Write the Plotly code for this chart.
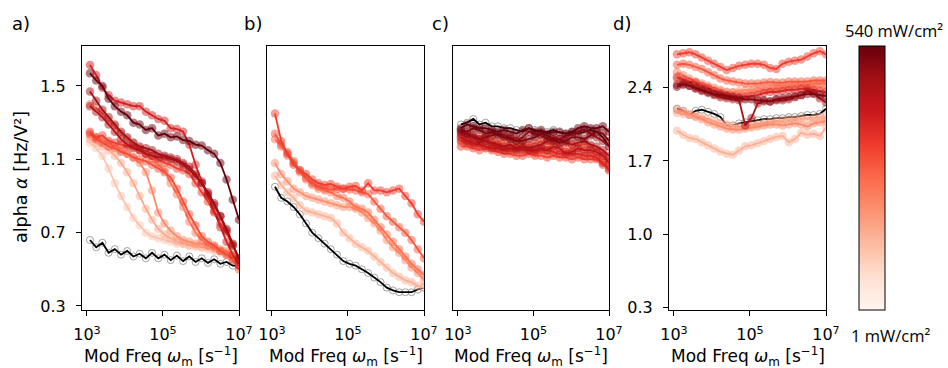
import math
import plotly.graph_objects as go

# ---------------- data ----------------
# modulation frequency sampling grid (log10 of omega_m in s^-1)
log_freq = [3.08, 3.243, 3.407, 3.57, 3.733, 3.897, 4.06, 4.223, 4.387, 4.55,
            4.713, 4.877, 5.04, 5.203, 5.367, 5.53, 5.693, 5.857, 6.02, 6.183,
            6.347, 6.51, 6.673, 6.837, 7.0]
freq = [10 ** e for e in log_freq]

x_tick_vals = [1e3, 1e5, 1e7]
x_tick_text = ["10<sup>3</sup>", "10<sup>5</sup>", "10<sup>7</sup>"]
y_ticks_abc = [0.3, 0.7, 1.1, 1.5]
y_ticks_d = [0.3, 1.0, 1.7, 2.4]
panel_labels = ["a)", "b)", "c)", "d)"]
I_MIN, I_MAX = 1, 540   # illumination intensity, mW/cm^2

# panel a
a_dark = [0.66, 0.62, 0.645, 0.59, 0.61, 0.58, 0.60, 0.57, 0.585, 0.56, 0.59, 0.56, 0.58,
          0.55, 0.575, 0.545, 0.57, 0.54, 0.56, 0.535, 0.555, 0.53, 0.54, 0.52, 0.52]
a_intensity = [4.0, 6.6, 12.4, 17, 38, 49, 93, 174, 254, 540]
a_alpha = [
    [1.19, 1.16, 1.12, 1.05, 0.97, 0.90, 0.84, 0.78, 0.74, 0.70, 0.68, 0.67, 0.66,
     0.65, 0.64, 0.64, 0.63, 0.62, 0.62, 0.61, 0.60, 0.59, 0.58, 0.56, 0.54],
    [1.21, 1.19, 1.17, 1.15, 1.12, 1.08, 1.03, 0.97, 0.90, 0.83, 0.77, 0.72, 0.69,
     0.67, 0.65, 0.64, 0.63, 0.63, 0.62, 0.62, 0.61, 0.60, 0.58, 0.57, 0.55],
    [1.23, 1.22, 1.20, 1.19, 1.17, 1.15, 1.13, 1.11, 1.08, 1.03, 0.93, 0.81, 0.75,
     0.71, 0.68, 0.66, 0.65, 0.64, 0.64, 0.63, 0.62, 0.61, 0.60, 0.57, 0.54],
    [1.40, 1.38, 1.35, 1.31, 1.28, 1.24, 1.21, 1.19, 1.16, 1.13, 1.10, 1.07, 1.04,
     0.97, 0.91, 0.84, 0.76, 0.70, 0.66, 0.63, 0.62, 0.60, 0.59, 0.56, 0.53],
    [1.24, 1.21, 1.19, 1.17, 1.16, 1.14, 1.13, 1.11, 1.10, 1.09, 1.07, 1.05, 1.03,
     1.00, 0.94, 0.87, 0.80, 0.74, 0.68, 0.65, 0.63, 0.60, 0.58, 0.55, 0.50],
    [1.25, 1.22, 1.23, 1.20, 1.19, 1.18, 1.17, 1.17, 1.15, 1.13, 1.12, 1.10, 1.08,
     1.07, 1.05, 1.04, 1.02, 0.97, 0.92, 0.87, 0.81, 0.75, 0.70, 0.63, 0.56],
    [1.615, 1.56, 1.49, 1.45, 1.42, 1.41, 1.40, 1.39, 1.39, 1.36, 1.34, 1.32, 1.31,
     1.27, 1.265, 1.25, 1.18, 1.07, 0.98, 0.90, 0.82, 0.73, 0.65, 0.58, 0.52],
    [1.39, 1.36, 1.33, 1.29, 1.25, 1.21, 1.18, 1.16, 1.15, 1.13, 1.12, 1.11, 1.11,
     1.10, 1.10, 1.08, 1.06, 1.02, 0.97, 0.91, 0.85, 0.79, 0.71, 0.63, 0.56],
    [1.47, 1.42, 1.37, 1.33, 1.29, 1.25, 1.22, 1.19, 1.17, 1.16, 1.15, 1.13, 1.12,
     1.11, 1.09, 1.07, 1.045, 1.01, 0.97, 0.92, 0.86, 0.79, 0.72, 0.64, 0.55],
    [1.57, 1.53, 1.50, 1.43, 1.39, 1.36, 1.34, 1.30, 1.29, 1.26, 1.27, 1.23, 1.24,
     1.22, 1.225, 1.205, 1.20, 1.18, 1.175, 1.15, 1.13, 1.08, 0.99, 0.88, 0.77],
]

# panel b
b_dark = [0.95, 0.89, 0.87, 0.84, 0.80, 0.75, 0.70, 0.67, 0.64, 0.61, 0.58, 0.545, 0.53,
          0.52, 0.50, 0.48, 0.455, 0.43, 0.40, 0.385, 0.375, 0.375, 0.375, 0.39, 0.40]
b_intensity = [5.8, 11, 20, 32, 49]
b_alpha = [
    [1.01, 0.96, 0.92, 0.89, 0.85, 0.82, 0.81, 0.80, 0.79, 0.78, 0.75, 0.70, 0.67,
     0.64, 0.62, 0.60, 0.57, 0.54, 0.51, 0.48, 0.46, 0.44, 0.43, 0.41, 0.40],
    [1.08, 1.02, 0.98, 0.94, 0.92, 0.90, 0.89, 0.88, 0.87, 0.86, 0.85, 0.84, 0.84,
     0.83, 0.81, 0.78, 0.75, 0.71, 0.66, 0.62, 0.59, 0.55, 0.51, 0.48, 0.44],
    [1.21, 1.17, 1.12, 1.08, 1.03, 0.99, 0.96, 0.94, 0.93, 0.92, 0.90, 0.89, 0.87,
     0.84, 0.83, 0.81, 0.77, 0.73, 0.69, 0.65, 0.61, 0.57, 0.53, 0.50, 0.47],
    [1.24, 1.18, 1.14, 1.09, 1.04, 1.00, 0.97, 0.95, 0.94, 0.935, 0.94, 0.94, 0.935,
     0.93, 0.92, 0.91, 0.87, 0.83, 0.79, 0.76, 0.73, 0.70, 0.66, 0.61, 0.56],
    [1.35, 1.20, 1.13, 1.07, 1.04, 1.02, 0.99, 0.97, 0.96, 0.965, 0.95, 0.94, 0.95,
     0.955, 0.93, 0.97, 0.93, 0.93, 0.92, 0.93, 0.94, 0.90, 0.86, 0.80, 0.76],
]

# panel c
c_dark = [1.29, 1.30, 1.32, 1.29, 1.30, 1.28, 1.28, 1.27, 1.27, 1.26, 1.25, 1.27, 1.26,
          1.25, 1.25, 1.26, 1.245, 1.24, 1.25, 1.24, 1.25, 1.26, 1.25, 1.22, 1.17]
c_intensity = [6.6, 12.4, 23, 44, 82, 154, 210, 290, 394, 540]
c_alpha = [
    [1.19, 1.18, 1.17, 1.17, 1.16, 1.16, 1.15, 1.15, 1.14, 1.15, 1.14, 1.14, 1.13,
     1.14, 1.13, 1.13, 1.13, 1.12, 1.13, 1.12, 1.12, 1.12, 1.11, 1.09, 1.07],
    [1.21, 1.22, 1.20, 1.19, 1.20, 1.19, 1.18, 1.19, 1.18, 1.17, 1.18, 1.17, 1.17,
     1.18, 1.16, 1.17, 1.16, 1.16, 1.15, 1.16, 1.15, 1.14, 1.14, 1.11, 1.09],
    [1.23, 1.24, 1.23, 1.22, 1.23, 1.22, 1.20, 1.21, 1.22, 1.21, 1.19, 1.18, 1.19,
     1.20, 1.19, 1.18, 1.19, 1.20, 1.18, 1.17, 1.18, 1.17, 1.15, 1.13, 1.10],
    [1.17, 1.17, 1.16, 1.15, 1.16, 1.15, 1.14, 1.13, 1.13, 1.12, 1.12, 1.13, 1.12,
     1.12, 1.11, 1.12, 1.11, 1.11, 1.10, 1.11, 1.10, 1.10, 1.10, 1.07, 1.05],
    [1.20, 1.19, 1.18, 1.19, 1.20, 1.18, 1.17, 1.16, 1.15, 1.16, 1.15, 1.15, 1.14,
     1.15, 1.15, 1.14, 1.13, 1.14, 1.13, 1.13, 1.12, 1.12, 1.11, 1.08, 1.04],
    [1.22, 1.20, 1.19, 1.18, 1.17, 1.16, 1.16, 1.15, 1.16, 1.15, 1.16, 1.15, 1.15,
     1.16, 1.15, 1.17, 1.16, 1.13, 1.14, 1.16, 1.15, 1.15, 1.14, 1.12, 1.08],
    [1.24, 1.22, 1.23, 1.21, 1.20, 1.19, 1.18, 1.17, 1.18, 1.16, 1.17, 1.16, 1.17,
     1.18, 1.20, 1.22, 1.21, 1.19, 1.18, 1.19, 1.20, 1.18, 1.17, 1.15, 1.12],
    [1.25, 1.24, 1.22, 1.21, 1.22, 1.23, 1.24, 1.23, 1.22, 1.20, 1.22, 1.25, 1.24,
     1.23, 1.21, 1.20, 1.21, 1.23, 1.24, 1.25, 1.26, 1.24, 1.22, 1.20, 1.17],
    [1.26, 1.25, 1.27, 1.26, 1.24, 1.25, 1.23, 1.22, 1.21, 1.20, 1.20, 1.21, 1.22,
     1.24, 1.23, 1.21, 1.19, 1.20, 1.22, 1.22, 1.21, 1.23, 1.25, 1.24, 1.20],
    [1.27, 1.29, 1.28, 1.27, 1.27, 1.26, 1.25, 1.26, 1.25, 1.24, 1.26, 1.27, 1.25,
     1.26, 1.24, 1.25, 1.25, 1.24, 1.25, 1.27, 1.28, 1.27, 1.27, 1.28, 1.25],
]

# panel d
d_dark = [2.20, 2.18, 2.14, 2.18, 2.19, 2.17, 2.15, 2.12, 2.04, 2.04, 2.06, 2.07, 2.08,
          2.09, 2.10, 2.10, 2.11, 2.11, 2.12, 2.12, 2.13, 2.14, 2.14, 2.15, 2.20]
d_intensity = [5.8, 6.6, 9, 12.4, 17, 32, 49, 82, 210, 394]
d_alpha = [
    [1.99, 1.95, 1.92, 1.91, 1.88, 1.85, 1.82, 1.79, 1.77, 1.76, 1.80, 1.84, 1.85,
     1.87, 1.89, 1.91, 1.93, 1.94, 1.88, 1.91, 1.97, 1.95, 1.96, 1.94, 2.02],
    [2.16, 2.15, 2.14, 2.13, 2.12, 2.10, 2.08, 2.06, 2.05, 2.04, 2.03, 2.03, 2.04,
     2.05, 2.06, 2.07, 2.08, 2.09, 2.10, 2.10, 2.11, 2.10, 2.11, 2.12, 2.12],
    [2.48, 2.46, 2.45, 2.43, 2.41, 2.39, 2.38, 2.37, 2.36, 2.36, 2.37, 2.38, 2.38,
     2.39, 2.40, 2.40, 2.41, 2.41, 2.41, 2.42, 2.42, 2.41, 2.42, 2.41, 2.40],
    [2.19, 2.17, 2.15, 2.12, 2.10, 2.07, 2.05, 2.03, 2.01, 2.00, 2.00, 2.01, 2.02,
     2.03, 2.04, 2.05, 2.05, 2.04, 2.05, 2.06, 2.05, 2.03, 2.06, 2.07, 2.08],
    [2.55, 2.52, 2.49, 2.46, 2.44, 2.42, 2.40, 2.38, 2.36, 2.355, 2.35, 2.35, 2.36,
     2.37, 2.38, 2.39, 2.40, 2.40, 2.41, 2.42, 2.42, 2.43, 2.43, 2.44, 2.44],
    [2.62, 2.63, 2.62, 2.60, 2.58, 2.55, 2.52, 2.49, 2.47, 2.46, 2.45, 2.44, 2.44,
     2.44, 2.45, 2.455, 2.45, 2.45, 2.46, 2.46, 2.46, 2.46, 2.47, 2.47, 2.47],
    [2.72, 2.73, 2.74, 2.72, 2.69, 2.66, 2.63, 2.60, 2.57, 2.59, 2.61, 2.62, 2.63,
     2.63, 2.62, 2.59, 2.58, 2.63, 2.65, 2.66, 2.67, 2.70, 2.73, 2.75, 2.72],
    [2.50, 2.48, 2.46, 2.45, 2.42, 2.40, 2.37, 2.35, 2.33, 2.32, 2.31, 2.31, 2.32,
     2.33, 2.35, 2.36, 2.36, 2.37, 2.38, 2.38, 2.39, 2.39, 2.38, 2.37, 2.36],
    [2.43, 2.44, 2.42, 2.39, 2.37, 2.35, 2.33, 2.31, 2.30, 2.29, 2.28, 2.04, 2.11,
     2.25, 2.27, 2.27, 2.28, 2.28, 2.29, 2.31, 2.33, 2.37, 2.35, 2.30, 2.26],
    [2.41, 2.43, 2.42, 2.40, 2.38, 2.36, 2.34, 2.33, 2.32, 2.31, 2.30, 2.29, 2.29,
     2.28, 2.28, 2.27, 2.29, 2.30, 2.31, 2.32, 2.33, 2.34, 2.34, 2.33, 2.32],
]

# ---------------- styling ----------------
REDS = [(255, 245, 240), (254, 224, 210), (252, 187, 161), (252, 146, 114), (251, 106, 74),
        (239, 59, 44), (203, 24, 29), (165, 15, 21), (103, 0, 13)]


def reds(f):
    f = min(max(f, 0.0), 1.0) * (len(REDS) - 1)
    i = min(int(f), len(REDS) - 2)
    t = f - i
    c = [round(REDS[i][k] + (REDS[i + 1][k] - REDS[i][k]) * t) for k in range(3)]
    return "rgb(%d,%d,%d)" % tuple(c)


def color_of(intensity):
    return reds(math.log(intensity / I_MIN) / math.log(I_MAX / I_MIN))


W, H = 948, 368
FONT = "DejaVu Sans"
x_px = [(82, 239), (267, 424), (453, 609), (669, 826)]
y_top, y_bot = 46, 310

fig = go.Figure()


def add_panel(k, dark, intensities, series):
    xa = "x" if k == 0 else "x%d" % (k + 1)
    ya = "y" if k == 0 else "y%d" % (k + 1)
    fig.add_trace(go.Scatter(x=freq, y=dark, mode="markers", xaxis=xa, yaxis=ya,
                             marker=dict(size=7, color="white",
                                         line=dict(color="rgba(90,90,90,0.55)", width=1)),
                             hoverinfo="skip"))
    fig.add_trace(go.Scatter(x=freq, y=dark, mode="lines", xaxis=xa, yaxis=ya,
                             line=dict(color="black", width=1.8), hoverinfo="skip"))
    order = sorted(range(len(intensities)), key=lambda j: intensities[j])
    for j in order:
        col = color_of(intensities[j])
        fig.add_trace(go.Scatter(x=freq, y=series[j], mode="markers", xaxis=xa, yaxis=ya,
                                 marker=dict(size=8.5, color=col, opacity=0.5,
                                             line=dict(width=0)),
                                 hoverinfo="skip"))
        fig.add_trace(go.Scatter(x=freq, y=series[j], mode="lines", xaxis=xa, yaxis=ya,
                                 line=dict(color=col, width=1.8), hoverinfo="skip"))


add_panel(0, a_dark, a_intensity, a_alpha)
add_panel(1, b_dark, b_intensity, b_alpha)
add_panel(2, c_dark, c_intensity, c_alpha)
add_panel(3, d_dark, d_intensity, d_alpha)

# colorbar carrier
fig.add_trace(go.Scatter(
    x=[1e5], y=[-5], mode="markers", xaxis="x4", yaxis="y4", hoverinfo="skip",
    marker=dict(size=1, color=[0.5], cmin=0, cmax=1, showscale=True,
                colorscale=[[i / (len(REDS) - 1), "rgb(%d,%d,%d)" % c] for i, c in enumerate(REDS)],
                colorbar=dict(thickness=26, thicknessmode="pixels", len=y_bot - y_top,
                              lenmode="pixels", x=859 / W, xanchor="left", y=1 - (y_top + y_bot) / 2 / H,
                              yanchor="middle", xpad=0, ypad=0, outlinewidth=1,
                              outlinecolor="black", showticklabels=False, ticks=""))))

layout = dict(width=W, height=H, margin=dict(l=0, r=0, t=0, b=0, autoexpand=False),
              showlegend=False, plot_bgcolor="white", paper_bgcolor="white",
              font=dict(family=FONT, size=16, color="black"))

ydom = [1 - y_bot / H, 1 - y_top / H]
for k in range(4):
    sx = "" if k == 0 else str(k + 1)
    layout["xaxis" + sx] = dict(
        domain=[x_px[k][0] / W, x_px[k][1] / W], anchor="y" + sx, type="log",
        range=[2.87, 7.0], tickvals=x_tick_vals, ticktext=x_tick_text,
        ticks="outside", ticklen=5, tickwidth=1.2, tickcolor="black",
        showline=True, linecolor="black", linewidth=1.2, mirror=True,
        showgrid=False, zeroline=False, tickfont=dict(size=16, family=FONT),
        ticklabelstandoff=5, automargin=False)
    yax = dict(domain=ydom, anchor="x" + sx, showline=True, linecolor="black",
               linewidth=1.2, mirror=True, showgrid=False, zeroline=False,
               automargin=False)
    if k == 3:
        yax.update(range=[0.274, 2.80], tickvals=y_ticks_d,
                   ticktext=["%.1f" % v for v in y_ticks_d])
    else:
        yax.update(range=[0.278, 1.718], tickvals=y_ticks_abc,
                   ticktext=["%.1f" % v for v in y_ticks_abc])
    if k in (0, 3):
        yax.update(ticks="outside", ticklen=5, tickwidth=1.2, tickcolor="black",
                   tickfont=dict(size=16, family=FONT), ticklabelstandoff=7)
    else:
        yax.update(ticks="", showticklabels=False)
    layout["yaxis" + sx] = yax

ann = []
label_x = [21, 253, 440, 622]
for k in range(4):
    ann.append(dict(text=panel_labels[k], x=label_x[k] / W, y=1 - 24 / H, xref="paper",
                    yref="paper", showarrow=False, xanchor="center", yanchor="middle",
                    font=dict(size=18, family=FONT)))
    cx = (x_px[k][0] + x_px[k][1]) / 2
    ann.append(dict(text="Mod Freq <i>ω</i><sub>m</sub> [s<sup>−1</sup>]", x=cx / W,
                    y=1 - 356 / H, xref="paper", yref="paper", showarrow=False,
                    xanchor="center", yanchor="middle", font=dict(size=17, family=FONT)))
ann.append(dict(text="alpha <i>α</i> [Hz/V²]", x=21 / W, y=1 - 177 / H, xref="paper",
                yref="paper", showarrow=False, textangle=-90, xanchor="center",
                yanchor="middle", font=dict(size=17.5, family=FONT)))
ann.append(dict(text="540 mW/cm²", x=894 / W, y=1 - 31 / H, xref="paper", yref="paper",
                showarrow=False, xanchor="center", yanchor="middle",
                font=dict(size=16.5, family="Open Sans")))
ann.append(dict(text="1 mW/cm²", x=890 / W, y=1 - 335 / H, xref="paper", yref="paper",
                showarrow=False, xanchor="center", yanchor="middle",
                font=dict(size=16.5, family="Open Sans")))
layout["annotations"] = ann

fig.update_layout(**layout)
fig.write_html("out.html")
